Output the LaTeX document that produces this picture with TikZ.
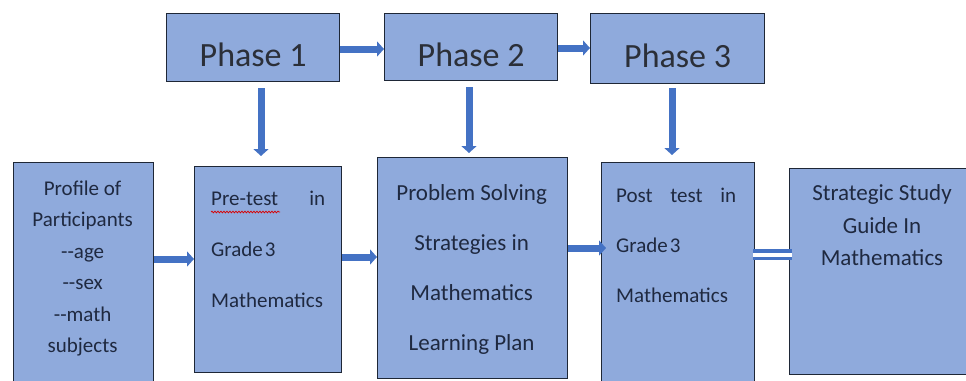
\documentclass[tikz,border=0pt]{standalone}
\usepackage{fontspec}
\setmainfont{Carlito}
\usetikzlibrary{arrows.meta,decorations.pathmorphing,calc}
\definecolor{boxfill}{HTML}{8FAADC}
\definecolor{boxline}{HTML}{1E2736}
\definecolor{flow}{HTML}{4472C4}
\definecolor{ink}{HTML}{1F2940}
\definecolor{phaseink}{HTML}{2B2F38}

% rectangle given by its top-left corner, width and height (all in pt)
\newcommand\mkbox[5]{\node[panel,minimum width=#4pt,minimum height=#5pt] (#1) at (#2,#3) {};}

\begin{document}
\begin{tikzpicture}[x=1pt,y=-1pt,
  panel/.style={draw=boxline,line width=1.3pt,fill=boxfill,inner sep=0pt,anchor=north west},
  phasetxt/.style={text=phaseink,font=\fontsize{34}{40}\selectfont,inner sep=0pt,anchor=base},
  smalltxt/.style={text=ink,font=\fontsize{21}{25}\selectfont,inner sep=0pt,anchor=base},
  bigtxt/.style={text=ink,font=\fontsize{23}{27}\selectfont,inner sep=0pt,anchor=base},
  leftline/.style={smalltxt,anchor=base west},
  arr/.style={draw=flow,line width=7pt,-{Triangle[width=15pt,length=7pt]}},
  eqlink/.style={draw=flow,line width=3.5pt,double=white,double distance=4pt}
]
\useasboundingbox (0,0) rectangle (966,380);
\clip (0,0) rectangle (966,380);

% phase boxes
\mkbox{p1}{166}{13}{173}{68}
\mkbox{p2}{384}{13}{173}{67}
\mkbox{p3}{590}{13}{174}{70}

% boxes of the lower row
\mkbox{prof}{13}{162}{140}{240}
\mkbox{pre}{194}{166}{147}{206}
\mkbox{prob}{377}{157}{190}{221}
\mkbox{post}{601}{162}{153}{240}
\mkbox{strat}{789}{168}{200}{206}

% phase titles
\node[phasetxt] (t1) at (p1.south |- 0,66) {Phase 1};
\node[phasetxt] (t2) at (p2.south |- 0,66) {Phase 2};
\node[phasetxt] (t3) at (p3.south |- 0,67) {Phase 3};

% profile of participants
\foreach \t [count=\i] in {Profile of,Participants,-{}-age,-{}-sex,-{}-math,subjects}
  \node[smalltxt] (prof-\i) at ($(prof.north)+(-1,33+31.5*\i-31.5)$) {\t};

% pre-test
\node[leftline] (pre-1) at ($(pre.north west)+(17,39)$) {\makebox[114pt][s]{Pre-test\hfill in}};
\node[leftline] (pre-2) at ($(pre.north west)+(17,90)$) {Grade\kern2pt 3};
\node[leftline] (pre-3) at ($(pre.north west)+(17,141)$) {Mathematics};
\draw[red!85!black,line width=0.7pt,decorate,
      decoration={snake,amplitude=0.9pt,segment length=3pt}]
  ($(pre-1.base west)+(0,7)$) -- ($(pre-1.base west)+(69,7)$);

% problem solving strategies
\foreach \t [count=\i] in {Problem Solving,Strategies in,Mathematics,Learning Plan}
  \node[bigtxt] (prob-\i) at ($(prob.north)+(-1,43+50*\i-50)$) {\t};

% post test
\node[leftline] (post-1) at ($(post.north west)+(15,40)$) {\makebox[120pt][s]{Post\hfill test\hfill in}};
\node[leftline] (post-2) at ($(post.north west)+(15,90)$) {Grade\kern2pt 3};
\node[leftline] (post-3) at ($(post.north west)+(15,140)$) {Mathematics};

% strategic study guide
\node[bigtxt] (strat-1) at (882,200) {Strategic Study};
\node[bigtxt] (strat-2) at (882,233) {Guide In};
\node[bigtxt] (strat-3) at (882,265) {Mathematics};

% flow between phases
\draw[arr] (p1.east |- 0,49) -- (p2.west |- 0,49);
\draw[arr] (p2.east |- 0,48) -- (p3.west |- 0,48);

% phases feeding the lower row
\draw[arr,shorten <=6pt,shorten >=10pt] (p1.south -| 261,0) -- (pre.north -| 261,0);
\draw[arr,shorten <=6pt,shorten >=4pt] (p2.south -| 469,0) -- (prob.north -| 469,0);
\draw[arr,shorten <=4pt,shorten >=7pt] (p3.south -| 672,0) -- (post.north -| 672,0);

% flow along the lower row
\draw[arr] (prof.east |- 0,259) -- (pre.west |- 0,259);
\draw[arr] (pre.east |- 0,257) -- (prob.west |- 0,257);
\draw[arr,shorten >=-5pt] (prob.east |- 0,248) -- (post.west |- 0,248);
\draw[eqlink,shorten <=-2pt,shorten >=-3pt] (post.east |- 0,254.5) -- (strat.west |- 0,254.5);
\end{tikzpicture}
\end{document}
